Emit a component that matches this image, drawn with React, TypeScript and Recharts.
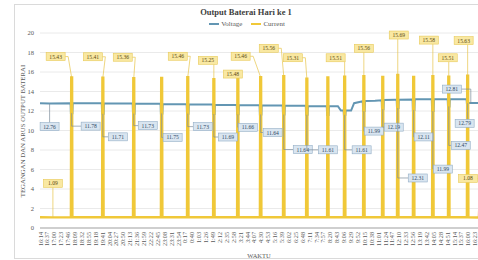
import React from 'react';
import { LineChart, Line, XAxis, YAxis, CartesianGrid } from 'recharts';

const FONT = "'Liberation Serif', 'DejaVu Serif', serif";

// ---- axis ticks ----
const tickLabels = ['16:14','16:37','17:00','17:23','17:46','18:09','18:32','18:55','19:18','19:41','20:04','20:27','20:50','21:13','21:36','21:59','22:22','22:45','23:08','23:31','23:54','0:17','0:40','1:03','1:26','1:49','2:12','2:35','2:58','3:21','3:44','4:07','4:30','4:53','5:16','5:39','6:02','6:25','6:48','7:11','7:34','7:57','8:20','8:43','9:06','9:29','9:52','10:15','10:38','11:01','11:24','11:47','12:10','12:33','12:56','13:19','13:42','14:05','14:28','14:51','15:14','15:37','16:00','16:23'];
const yTicks = [0, 2, 4, 6, 8, 10, 12, 14, 16, 18, 20];

// ---- pump events (current spikes / voltage dips) ----
const spikeTimes = ['17:57','19:41','21:24','22:57','0:24','1:51','3:11','4:27','5:44','7:01','8:11','9:07','10:11','11:14','12:04','12:57','14:01','14:54','15:57'];
const currentPeak = [15.43,15.41,15.36,15.40,15.46,15.25,15.48,15.46,15.56,15.31,15.45,15.51,15.56,15.50,15.69,15.50,15.58,15.51,15.63];
const voltageDip = [11.78,11.71,11.73,11.75,11.73,11.69,11.66,11.64,11.64,11.61,11.60,11.61,11.99,12.19,12.31,12.11,11.99,12.47,12.79];
const voltageBefore = [12.8,12.8,12.78,12.75,12.7,12.66,12.62,12.6,12.56,12.53,12.5,12.05,13.0,13.1,13.15,13.18,13.2,13.2,13.2];
const voltageAfter = [12.8,12.78,12.75,12.7,12.66,12.62,12.6,12.56,12.53,12.5,12.5,12.05,13.02,13.12,13.16,13.2,13.2,13.2,12.81];
const PUMP_MINUTES = 5;
const CURRENT_IDLE = 1.1;

// ---- idle readings ----
const voltageTrendTimes = ['16:14','16:46','8:47','8:57','9:31','9:41','10:51','11:57','16:10','16:34'];
const voltageTrendValues = [12.8,12.76,12.5,12.05,12.05,12.8,13.05,13.15,12.81,12.81];
const currentTrendTimes = ['16:14','16:57','0:00','12:00','16:34'];
const currentTrendValues = [1.1,1.09,1.1,1.12,1.08];

// ---- callout layout (pixel offsets of label box from its point) ----
const currentSpikeLabelOffset: ([number, number] | null)[] = [[-16,-21],[-10,-21],[-11,-21],null,[-10,-21],[-6,-19],[-5,-3],[-20,-21],[-15,-28],[-14,-21],null,[-9,-19],[0,-28],null,[1,-40],null,[-4,-36],[-1,-19],[-4,-35]];
const voltageDipLabelOffset: ([number, number] | null)[] = [[19,13],[15,23],[14,12],[11,24],[15,13],[14,23],[10,13],[12,18],[19,35],[21,35],null,[17,35],[10,20],[11,18],[20,70],[10,27],[10,58],[12,39],[-3,20]];
const voltageTrendLabelOffset: ([number, number] | null)[] = [null,[0,23],null,null,null,null,null,null,[-19,-14],null];
const currentTrendLabelOffset: ([number, number] | null)[] = [null,[0,-34],null,null,[-10,-39]];

// clock strings (ordered) -> minutes since first reading of the day (16:14)
const START_RAW = 16 * 60 + 14;
function timeline(list: string[]): number[] {
  let day = 0;
  let prev = -1;
  return list.map((s) => {
    const [h, m] = s.split(':').map(Number);
    const raw = h * 60 + m;
    if (prev >= 0 && raw < prev) day += 1;
    prev = raw;
    return raw + day * 1440 - START_RAW;
  });
}

const tickMinutes = timeline(tickLabels);
const tickLabelByMin = new Map<number, string>(tickMinutes.map((t, i) => [t, tickLabels[i]]));
const spikeT = timeline(spikeTimes);
const vTrendT = timeline(voltageTrendTimes);
const cTrendT = timeline(currentTrendTimes);
const END_T = vTrendT[vTrendT.length - 1];

type Row = { t: number; v?: number; c?: number };
const voltageRows: Row[] = [];
vTrendT.forEach((t, i) => voltageRows.push({ t, v: voltageTrendValues[i] }));
spikeT.forEach((t, i) => {
  voltageRows.push(
    { t: t - 1, v: voltageBefore[i] },
    { t, v: voltageDip[i] },
    { t: t + PUMP_MINUTES, v: voltageDip[i] },
    { t: t + PUMP_MINUTES + 1, v: voltageAfter[i] },
  );
});
voltageRows.sort((a, b) => a.t - b.t);

const currentRows: Row[] = [];
cTrendT.forEach((t, i) => currentRows.push({ t, c: currentTrendValues[i] }));
spikeT.forEach((t, i) => {
  currentRows.push(
    { t, c: CURRENT_IDLE },
    { t: t + 1, c: currentPeak[i] },
    { t: t + PUMP_MINUTES - 1, c: currentPeak[i] },
    { t: t + PUMP_MINUTES, c: CURRENT_IDLE },
  );
});
currentRows.sort((a, b) => a.t - b.t);

type Callout = { t: number; y: number; text: string; kind: 'c' | 'v'; dx: number; dy: number };
const callouts: Callout[] = [];
vTrendT.forEach((t, i) => {
  const o = voltageTrendLabelOffset[i];
  if (o) callouts.push({ t, y: voltageTrendValues[i], text: voltageTrendValues[i].toFixed(2), kind: 'v', dx: o[0], dy: o[1] });
});
cTrendT.forEach((t, i) => {
  const o = currentTrendLabelOffset[i];
  if (o) callouts.push({ t, y: currentTrendValues[i], text: currentTrendValues[i].toFixed(2), kind: 'c', dx: o[0], dy: o[1] });
});
spikeT.forEach((t, i) => {
  const mid = t + PUMP_MINUTES / 2;
  const vo = voltageDipLabelOffset[i];
  if (vo) callouts.push({ t: mid, y: voltageDip[i], text: voltageDip[i].toFixed(2), kind: 'v', dx: vo[0], dy: vo[1] });
  const co = currentSpikeLabelOffset[i];
  if (co) callouts.push({ t: mid, y: currentPeak[i], text: currentPeak[i].toFixed(2), kind: 'c', dx: co[0], dy: co[1] });
});

const VOLT_COLOR = '#6396B3';
const CURR_COLOR = '#F0C838';

function renderCallout(props: any) {
  const { cx, cy, payload } = props;
  if (cx == null || cy == null || !payload) return <g key={`k${props.index}`} />;
  const { text, kind, dx, dy } = payload as Callout;
  const w = 19;
  const h = 8;
  const bx = cx + dx;
  const by = cy + dy;
  const isC = kind === 'c';
  let pts: number[][];
  if (Math.abs(dx) > w / 2) {
    const sx = dx < 0 ? bx + w / 2 : bx - w / 2;
    pts = isC ? [[sx, by], [sx + (dx < 0 ? 3 : -3), by], [cx, cy]] : [[sx, by], [cx, by], [cx, cy]];
  } else {
    const sy = dy < 0 ? by + h / 2 : by - h / 2;
    pts = [[cx, sy], [cx, cy]];
  }
  return (
    <g key={`k${props.index}`}>
      <polyline
        points={pts.map((p) => p.join(',')).join(' ')}
        fill="none"
        stroke={isC ? '#E6C44A' : '#7E8E9C'}
        strokeWidth={0.7}
      />
      <rect
        x={bx - w / 2}
        y={by - h / 2}
        width={w}
        height={h}
        fill={isC ? '#F9E8A2' : '#D9E5F0'}
        stroke={isC ? '#E8CB5A' : '#93AEC6'}
        strokeWidth={0.6}
      />
      <text
        x={bx}
        y={by}
        textAnchor="middle"
        dominantBaseline="central"
        fontSize={5.6}
        fontFamily={FONT}
        fill={isC ? '#5a4a10' : '#2F4A66'}
      >
        {text}
      </text>
    </g>
  );
}

function renderXTick(p: any) {
  const label = tickLabelByMin.get(p.payload?.value) ?? '';
  return (
    <text
      x={p.x}
      y={p.y}
      transform={`rotate(-90 ${p.x} ${p.y})`}
      textAnchor="end"
      dominantBaseline="central"
      fontSize={6.2}
      fill="#595959"
      fontFamily={FONT}
    >
      {label}
    </text>
  );
}

function YTitle() {
  return (
    <text
      x={22}
      y={131}
      transform="rotate(-90 22 131)"
      textAnchor="middle"
      dominantBaseline="central"
      fontSize={6.8}
      fill="#595959"
      fontFamily={FONT}
    >
      TEGANGAN DAN ARUS OUTPUT BATERAI
    </text>
  );
}

export default function App() {
  return (
    <div style={{ position: 'absolute', left: 0, top: 0, width: 478, height: 260, background: '#fff', overflow: 'hidden' }}>
      <div
        style={{
          position: 'absolute', left: 14, top: 4, width: 470, height: 255,
          border: '1px solid #dadada', boxSizing: 'border-box',
        }}
      />
      <div style={{ position: 'absolute', left: 0, top: 0 }}>
        <LineChart width={478} height={260} margin={{ top: 33, right: 0, bottom: 0, left: 0 }}>
          <CartesianGrid vertical={false} stroke="#e4e4e4" strokeWidth={0.8} />
          <XAxis
            type="number"
            dataKey="t"
            domain={[0, END_T]}
            ticks={tickMinutes}
            interval={0}
            tickLine={false}
            tickSize={0}
            tickMargin={4}
            height={32}
            axisLine={{ stroke: '#cfcfcf', strokeWidth: 2 }}
            tick={renderXTick}
            label={{ value: 'WAKTU', position: 'insideBottom', offset: 2, style: { fontSize: 6.5, fill: '#595959', fontFamily: FONT } }}
          />
          <YAxis
            type="number"
            domain={[0, 20]}
            ticks={yTicks}
            interval={0}
            width={40}
            tickLine={false}
            axisLine={false}
            tickSize={0}
            tickMargin={6}
            tick={{ fontSize: 6.5, fill: '#595959', fontFamily: FONT }}
            label={<YTitle />}
          />
          <Line
            data={voltageRows}
            dataKey="v"
            name="Voltage"
            type="linear"
            stroke={VOLT_COLOR}
            strokeWidth={2}
            dot={false}
            activeDot={false}
            isAnimationActive={false}
          />
          <Line
            data={currentRows}
            dataKey="c"
            name="Current"
            type="linear"
            stroke={CURR_COLOR}
            strokeWidth={2.4}
            dot={false}
            activeDot={false}
            isAnimationActive={false}
          />
          <Line
            data={callouts}
            dataKey="y"
            name="labels"
            type="linear"
            stroke="none"
            dot={renderCallout}
            activeDot={false}
            isAnimationActive={false}
            legendType="none"
          />
        </LineChart>
      </div>
      <div
        style={{
          position: 'absolute', left: 14, top: 6, width: 464, textAlign: 'center',
          fontFamily: FONT, fontWeight: 'bold', fontSize: 8.5, color: '#404040', lineHeight: '12px',
        }}
      >
        Output Baterai Hari ke 1
      </div>
      <div
        style={{
          position: 'absolute', left: 14, top: 19, width: 466, display: 'flex', justifyContent: 'center',
          alignItems: 'center', fontFamily: FONT, fontSize: 7, color: '#595959', lineHeight: '10px',
        }}
      >
        <span style={{ display: 'inline-block', width: 10, borderTop: `2px solid ${VOLT_COLOR}`, marginRight: 2 }} />
        <span style={{ marginRight: 9 }}>Voltage</span>
        <span style={{ display: 'inline-block', width: 10, borderTop: `2px solid ${CURR_COLOR}`, marginRight: 2 }} />
        <span>Current</span>
      </div>
    </div>
  );
}
